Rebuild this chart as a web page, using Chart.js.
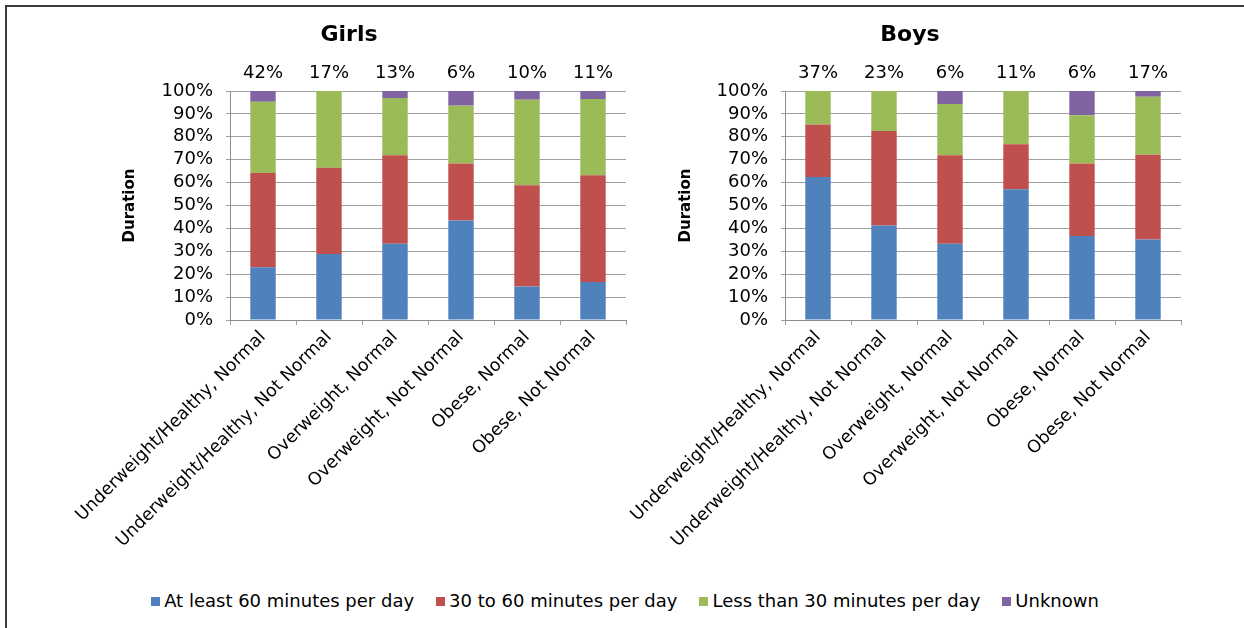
<!DOCTYPE html>
<html>
<head>
<meta charset="utf-8">
<script src="https://cdn.jsdelivr.net/npm/chart.js@4/dist/chart.umd.min.js"></script>
<style>
  body { margin: 0; background: #fff; width: 1244px; height: 628px; overflow: hidden; position: relative; font-family: 'DejaVu Sans', sans-serif; }
  #frame { position: absolute; left: 5px; top: 5px; width: 1250px; height: 640px; border-top: 2px solid #3a3a3a; border-left: 2px solid #3a3a3a; }
  canvas { position: absolute; top: 8px; }
  #girls { left: 40px; }
  #boys { left: 595px; }
  #legend { position: absolute; left: 0; width: 1250px; top: 590px; text-align: center; font-size: 18px; color: #000; white-space: nowrap; }
  .item { display: inline-block; margin: 0 11px; }
  .box { display: inline-block; width: 9px; height: 9px; margin-right: 4px; vertical-align: 1px; }
</style>
</head>
<body>
<div id="frame"></div>
<canvas id="girls" width="600" height="542"></canvas>
<canvas id="boys" width="600" height="542"></canvas>
<div id="legend"></div>
<script>
var categories = ['Underweight/Healthy, Normal', 'Underweight/Healthy, Not Normal', 'Overweight, Normal',
                  'Overweight, Not Normal', 'Obese, Normal', 'Obese, Not Normal'];
var seriesNames = ['At least 60 minutes per day', '30 to 60 minutes per day', 'Less than 30 minutes per day', 'Unknown'];
var seriesColors = ['#4F81BD', '#C0504D', '#9BBB59', '#8064A2'];

var girlsShare = ['42%', '17%', '13%', '6%', '10%', '11%'];
var girlsAtLeast60 = [23.0, 28.8, 33.3, 43.4, 14.6, 16.6];
var girls30to60 = [41.2, 37.7, 38.6, 24.9, 44.2, 46.6];
var girlsUnder30 = [31.1, 33.5, 25.0, 25.3, 37.4, 33.3];
var girlsUnknown = [4.7, 0, 3.1, 6.4, 3.8, 3.5];

var boysShare = ['37%', '23%', '6%', '11%', '6%', '17%'];
var boysAtLeast60 = [62.4, 41.3, 33.3, 57.1, 36.7, 35.1];
var boys30to60 = [23.0, 41.2, 38.6, 19.6, 31.6, 37.1];
var boysUnder30 = [14.6, 17.5, 22.4, 23.3, 21.1, 25.3];
var boysUnknown = [0, 0, 5.7, 0, 10.6, 2.5];

var yTicks = [0, 10, 20, 30, 40, 50, 60, 70, 80, 90, 100];

Chart.defaults.font.family = "'DejaVu Sans', sans-serif";
Chart.defaults.color = '#000';

var gridGrey = '#a0a0a0';
var axisGrey = '#8c8c8c';

function makeDatasets(series){
    return series.map(function(values, i){
        return {
            label: seriesNames[i],
            data: values,
            backgroundColor: seriesColors[i],
            borderWidth: 0,
            categoryPercentage: 1,
            barPercentage: 0.385
        };
    });
}

function buildChart(canvasId, title, share, series, padLeft, yTitlePad){
    var ctx = document.getElementById(canvasId).getContext('2d');
    return new Chart(ctx, {
        type: 'bar',
        data: {
            labels: categories,
            datasets: makeDatasets(series)
        },
        options: {
            responsive: false,
            animation: false,
            devicePixelRatio: 1,
            layout: { padding: { left: padLeft, right: 14, top: 0, bottom: 0 } },
            plugins: {
                legend: { display: false },
                tooltip: { enabled: false },
                title: {
                    display: true,
                    text: title,
                    color: '#000',
                    font: { size: 22, weight: 'bold' },
                    padding: { top: 14, bottom: 4 }
                }
            },
            scales: {
                x: {
                    stacked: true,
                    offset: true,
                    grid: { display: true, drawOnChartArea: false, drawTicks: true, tickLength: 5, color: gridGrey },
                    border: { display: true, color: axisGrey },
                    ticks: { autoSkip: false, minRotation: 45, maxRotation: 45, padding: 2, font: { size: 17.5 } },
                    afterFit: function(scale){ scale.height = 230; }
                },
                top: {
                    type: 'category',
                    position: 'top',
                    labels: share,
                    offset: true,
                    grid: { display: false, drawTicks: false },
                    border: { display: false },
                    ticks: { autoSkip: false, maxRotation: 0, padding: 7, font: { size: 18 } },
                    afterFit: function(scale){ scale.height = 38.6; }
                },
                y: {
                    stacked: true,
                    min: 0,
                    max: 100,
                    afterBuildTicks: function(scale){
                        scale.ticks = yTicks.map(function(v){ return { value: v }; });
                    },
                    grid: { color: gridGrey, tickLength: 4 },
                    border: { display: true, color: axisGrey },
                    ticks: {
                        autoSkip: false,
                        padding: 13,
                        font: { size: 18 },
                        callback: function(v){ return v + '%'; }
                    },
                    title: {
                        display: true,
                        text: 'Duration',
                        color: '#000',
                        font: { size: 15, weight: 'bold' },
                        padding: { top: yTitlePad, bottom: 0 }
                    },
                    afterFit: function(scale){ scale.width = 190 - padLeft; }
                }
            }
        }
    });
}

function buildLegend(){
    var html = '';
    for(var i = 0; i < seriesNames.length; i++){
        html += '<span class="item"><span class="box" style="background:' + seriesColors[i] + '"></span>' + seriesNames[i] + '</span>';
    }
    document.getElementById('legend').innerHTML = html;
}

buildChart('girls', 'Girls', girlsShare, [girlsAtLeast60, girls30to60, girlsUnder30, girlsUnknown], 32, 49);
buildChart('boys', 'Boys', boysShare, [boysAtLeast60, boys30to60, boysUnder30, boysUnknown], 44, 38);
buildLegend();
</script>
</body>
</html>
